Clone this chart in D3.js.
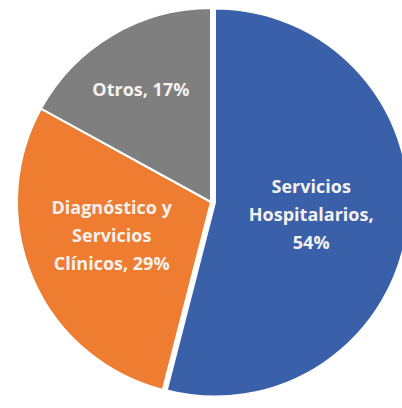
<!DOCTYPE html>
<html lang="es">
<head>
<meta charset="utf-8">
<style>
  body { margin: 0; background: #fff; }
  svg { display: block; }
</style>
</head>
<body>
<script src="https://d3js.org/d3.v7.min.js"></script>
<div id="chart"></div>
<script>
// data
var categories = ["Servicios Hospitalarios", "Diagnóstico y Servicios Clínicos", "Otros"];
var values = [54, 29, 17];
var labelLines = [
    ["Servicios", "Hospitalarios,", "54%"],
    ["Diagnóstico y", "Servicios", "Clínicos, 29%"],
    ["Otros, 17%"]
];
var colors = ["#3a60a9", "#ee7d31", "#7f7f7f"];

// layout
var width = 402, height = 408;
var cx = 211, cy = 202, r = 194;
var explode = [4, 0, 0];           // blue slice pulled out a little
var labelRadius = [97, 106, 130];
var labelShift = [[0, 0], [-2, -8], [-4, 0]];
var lineGap = 28;

var svg = d3.select("#chart").append("svg")
    .attr("width", width)
    .attr("height", height);

var g = svg.append("g").attr("transform", "translate(" + cx + "," + cy + ")");

var pie = d3.pie().sort(null).value(function (d) { return d; });
var arcs = pie(values);

var arc = d3.arc().innerRadius(0).outerRadius(r);

function mid(d) { return (d.startAngle + d.endAngle) / 2; }

var slices = g.selectAll("g.slice")
    .data(arcs)
    .enter()
    .append("g")
    .attr("class", "slice")
    .attr("transform", function (d, i) {
        var a = mid(d);
        return "translate(" + (Math.sin(a) * explode[i]) + "," + (-Math.cos(a) * explode[i]) + ")";
    });

slices.append("path")
    .attr("d", arc)
    .style("fill", function (d, i) { return colors[i]; })
    .style("stroke", "#fff")
    .style("stroke-width", 2)
    .style("stroke-linejoin", "round");

// labels
slices.each(function (d, i) {
    var a = mid(d);
    var x = Math.sin(a) * labelRadius[i] + labelShift[i][0];
    var y = -Math.cos(a) * labelRadius[i] + labelShift[i][1];
    var lines = labelLines[i];
    var t = d3.select(this).append("text")
        .attr("text-anchor", "middle")
        .style("font-family", "'Open Sans', sans-serif")
        .style("font-weight", "bold")
        .style("font-size", "18px")
        .style("fill", "#f4f1ee");
    lines.forEach(function (s, k) {
        t.append("tspan")
            .attr("x", x)
            .attr("y", y + (k - (lines.length - 1) / 2) * lineGap)
            .attr("dy", "0.35em")
            .text(s);
    });
});
</script>
</body>
</html>
